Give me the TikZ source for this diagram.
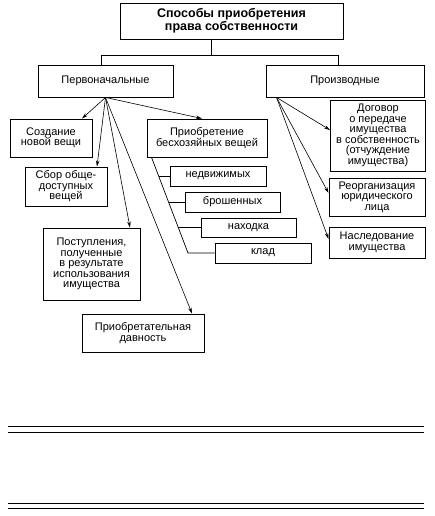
\documentclass[tikz,border=0pt]{standalone}
\usepackage{fontspec}
\setmainfont{Liberation Sans}
\usetikzlibrary{arrows.meta,calc}
\begin{document}
\begin{tikzpicture}[x=1pt,y=-1pt,
 box/.style={draw,line width=0.9pt,align=center,inner sep=0pt,font=\fontsize{11}{10.5}\selectfont},
 conn/.style={line width=0.7pt},
 arr/.style={line width=0.6pt,-{Stealth[length=6pt,width=3.5pt]}},
 rule/.style={line width=0.8pt}]
\useasboundingbox (0,0) rectangle (434,516);
% boxes
\node[box, minimum width=223pt, minimum height=36pt, font=\fontsize{12.5}{11.5}\selectfont\bfseries] (top) at (231.5,21) {Способы приобретения\\права собственности};
\node[box, minimum width=135pt, minimum height=32pt] (perv) at (105.5,81) {Первоначальные};
\node[box, minimum width=158pt, minimum height=32pt] (proizv) at (345,81) {Производные};
\node[box, minimum width=82pt, minimum height=38pt] (sozd) at (51,138) {Создание\\новой вещи};
\node[box, minimum width=82pt, minimum height=39pt] (sbor) at (66,186.5) {Сбор обще-\\доступных\\вещей};
\node[box, minimum width=97pt, minimum height=72pt] (post) at (91.5,264) {Поступления,\\полученные\\в результате\\использования\\имущества};
\node[box, minimum width=122pt, minimum height=38pt] (davn) at (143,333) {Приобретательная\\давность};
\node[box, minimum width=120pt, minimum height=38pt] (bes) at (207,138) {Приобретение\\бесхозяйных вещей};
\node[box, minimum width=96pt, minimum height=20pt] (nedv) at (218,176) {недвижимых};
\node[box, minimum width=95pt, minimum height=20pt] (brosh) at (232.5,202) {брошенных};
\node[box, minimum width=95pt, minimum height=19pt] (nakh) at (248.5,227.5) {находка};
\node[box, minimum width=96pt, minimum height=20pt] (klad) at (263,253) {клад};
\node[box, minimum width=95pt, minimum height=71pt] (dog) at (378,135.5) {Договор\\о передаче\\имущества\\в собственность\\(отчуждение\\имущества)};
\node[box, minimum width=96pt, minimum height=38pt] (reorg) at (377,197) {Реорганизация\\юридического\\лица};
\node[box, minimum width=96pt, minimum height=31pt] (nasl) at (377,242.5) {Наследование\\имущества};
% tree connectors
\coordinate (j) at (211,55);
\coordinate (jl) at (101,55);
\coordinate (jr) at (338,55);
\draw[conn] (j |- top.south) -- (j);
\draw[conn] (jl |- perv.north) -- (jl) -- (jr) -- (jr |- proizv.north);
% arrows from Первоначальные
\draw[arr] (perv.south) -- ([xshift=31pt]sozd.north);
\draw[arr] (perv.south) -- ([xshift=31pt]sbor.north);
\draw[arr] (perv.south) -- ([xshift=38.5pt]post.north);
\draw[arr] (perv.south) -- ([xshift=49pt]davn.north);
\draw[arr] (perv.south) -- ([xshift=-5pt]bes.north);
% arrows from Производные
\coordinate (po) at ([xshift=11pt]proizv.south west);
\draw[arr] (po) -- ([yshift=5.5pt]dog.west);
\draw[arr] (po) -- ([yshift=4pt]reorg.west);
\draw[arr] (po) -- ([yshift=3.5pt]nasl.west);
% bracket
\coordinate (b0) at ([xshift=5pt]bes.south west);
\coordinate (b1) at (188,253);
\coordinate (t1) at (159.1,176);
\coordinate (t2) at (168.9,202);
\coordinate (t3) at (178.4,227.5);
\draw[conn] (b0) -- (b1) -- (klad.west);
\draw[conn] (t1) -- (nedv.west);
\draw[conn] (t2) -- (brosh.west);
\draw[conn] (t3) -- (nakh.west);
% rules
\draw[rule] (8,426) -- (424,426);
\draw[rule] (8,432) -- (424,432);
\draw[rule] (8,503) -- (424,503);
\draw[rule] (8,508) -- (424,508);
\end{tikzpicture}
\end{document}
